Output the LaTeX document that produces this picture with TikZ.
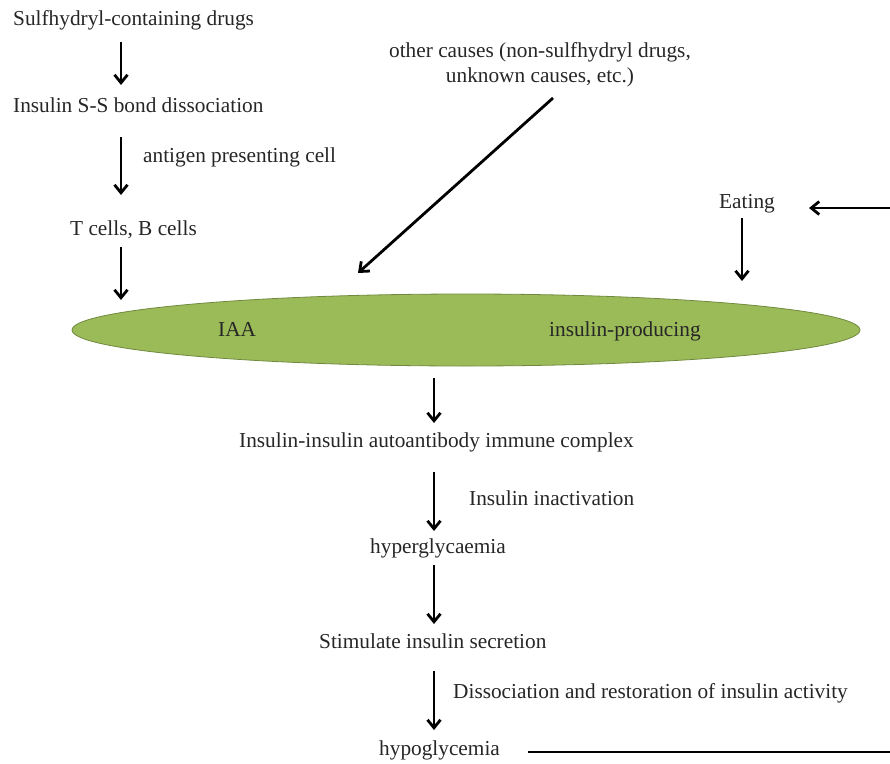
\documentclass[tikz,border=0pt]{standalone}
\usepackage{fontspec}
\setmainfont{Liberation Serif}
\usetikzlibrary{shapes.geometric,arrows.meta}
\definecolor{ellfill}{HTML}{9BBB59}
\definecolor{elldraw}{HTML}{71893F}
\begin{document}
\begin{tikzpicture}[x=1pt,y=-1pt,
  lbl/.style={inner sep=0pt,anchor=base west,font=\fontsize{21.3}{25}\selectfont,text=black!85},
  ctr/.style={inner sep=0pt,anchor=base,font=\fontsize{21.3}{25}\selectfont,text=black!85},
  arr/.style={line width=2.8pt,-{Straight Barb[length=8pt,width=13pt,line width=2.8pt]}},
  plainline/.style={line width=2.8pt}]
\useasboundingbox (0,0) rectangle (890,763);
% ellipse
\node[ellipse,fill=ellfill,draw=elldraw,line width=0.8pt,minimum width=788pt,minimum height=72pt,inner sep=0pt] (ell) at (466,330) {};
% texts
\node[lbl] (t1) at (13,25) {Sulfhydryl-containing drugs};
\node[lbl] (t2) at (13,112) {Insulin S-S bond dissociation};
\node[lbl] (t2l) at (143,162) {antigen presenting cell};
\node[lbl] (t3) at (70,235) {T cells, B cells};
\node[ctr] (oc) at (540,57) {other causes (non-sulfhydryl drugs,};
\node[ctr] (oc2) at (540,82) {unknown causes, etc.)};
\node[lbl] (eat) at (719,208) {Eating};
\node[lbl] (iaa) at (218,336) {IAA};
\node[lbl] (ip) at (549,336) {insulin-producing};
\node[lbl] (ic) at (239,447) {Insulin-insulin autoantibody immune complex};
\node[lbl] (ia) at (469,505) {Insulin inactivation};
\node[lbl] (hyper) at (370,553) {hyperglycaemia};
\node[lbl] (stim) at (319,648) {Stimulate insulin secretion};
\node[lbl] (dis) at (453,698) {Dissociation and restoration of insulin activity};
\node[lbl] (hypo) at (379,755) {hypoglycemia};
% arrow end coordinates
\coordinate (a1s) at (121,42);  \coordinate (a1e) at (121,85);
\coordinate (a2s) at (121,137); \coordinate (a2e) at (121,195);
\coordinate (a3s) at (121,247); \coordinate (a3e) at (121,300);
\coordinate (ds) at (553,98);   \coordinate (de) at (358,273);
\coordinate (es) at (742,218);  \coordinate (ee) at (742,281);
\coordinate (rs) at (890,208);  \coordinate (re) at (809,208);
\coordinate (b1s) at (434,378); \coordinate (b1e) at (434,423);
\coordinate (b2s) at (434,472); \coordinate (b2e) at (434,531);
\coordinate (b3s) at (434,565); \coordinate (b3e) at (434,624);
\coordinate (b4s) at (434,671); \coordinate (b4e) at (434,730);
\coordinate (ls) at (528,752);  \coordinate (le) at (890,752);
% connectors
\draw[arr] (a1s) -- (a1e);
\draw[arr] (a2s) -- (a2e);
\draw[arr] (a3s) -- (a3e);
\draw[arr] (ds) -- (de);
\draw[arr] (es) -- (ee);
\draw[arr] (rs) -- (re);
\draw[arr] (b1s) -- (b1e);
\draw[arr] (b2s) -- (b2e);
\draw[arr] (b3s) -- (b3e);
\draw[arr] (b4s) -- (b4e);
\draw[plainline] (ls) -- (le);
\end{tikzpicture}
\end{document}
